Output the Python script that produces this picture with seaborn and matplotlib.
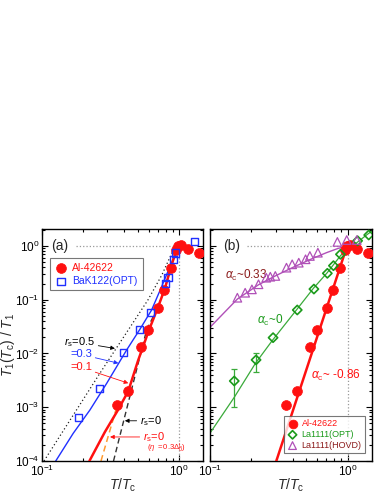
import numpy as np
import pandas as pd
import matplotlib
matplotlib.use("Agg")
import matplotlib.pyplot as plt
import seaborn as sns

# ---------------- data ----------------
al_x = [0.355, 0.427, 0.531, 0.598, 0.703, 0.777, 0.879, 0.95, 0.99, 1.03, 1.16, 1.41]
al_y = [1.1e-3, 2.03e-3, 0.0134, 0.0268, 0.069, 0.150, 0.385, 0.84, 1.0, 1.04, 0.88, 0.73]

bak_x = [0.184, 0.262, 0.392, 0.515, 0.625, 0.795, 0.832, 0.92, 0.946, 1.30]
bak_y = [6.4e-4, 2.25e-3, 0.0103, 0.028, 0.0585, 0.199, 0.257, 0.57, 0.74, 1.20]

opt_x = [0.150, 0.216, 0.287, 0.430, 0.568, 0.711, 0.787, 0.885, 1.18, 1.42]
opt_y = [3.08e-3, 7.6e-3, 0.0197, 0.0645, 0.158, 0.31, 0.43, 0.70, 1.25, 1.60]
opt_err_lo = [1.02e-3, 4.6e-3]
opt_err_hi = [5.1e-3, 0.0104]

hovd_x = [0.158, 0.180, 0.2015, 0.225, 0.256, 0.274, 0.298, 0.359, 0.395, 0.441,
          0.494, 0.531, 0.607, 0.841, 0.983, 1.163]
hovd_y = [0.109, 0.135, 0.156, 0.194, 0.257, 0.268, 0.277, 0.395, 0.456, 0.489,
          0.566, 0.652, 0.75, 1.19, 1.29, 1.29]

# fit curves, panel (a)
rs05_x = [0.1034, 0.265, 0.594, 0.751, 0.889, 0.96]
rs05_y = [1.0e-4, 4.3e-3, 0.099, 0.289, 0.741, 1.0]
rs03_x = [0.126, 0.169, 0.224, 0.297, 0.415, 0.519, 0.632, 0.748, 0.860, 0.935, 0.97]
rs03_y = [1.0e-4, 3.27e-4, 8.9e-4, 2.79e-3, 0.0116, 0.0282, 0.0645, 0.175, 0.412, 0.68, 1.0]
rs01_x = [0.222, 0.288, 0.359, 0.427, 0.502, 0.601, 0.706, 0.791, 0.884, 0.951, 0.97]
rs01_y = [1.0e-4, 3.47e-4, 8.9e-4, 2.0e-3, 7.25e-3, 0.0262, 0.0743, 0.163, 0.443, 0.783, 1.0]
rs0_x = [0.333, 0.439, 0.581, 0.706, 0.791, 0.884, 0.951, 0.97]
rs0_y = [1.0e-4, 1.62e-3, 0.0274, 0.0743, 0.163, 0.443, 0.783, 1.0]
rs0eta_x = [0.2697, 0.355, 0.37]
rs0eta_y = [1.0e-4, 1.1e-3, 1.3e-3]

# fit curves, panel (b)
fit_opt_x = [0.1, 0.150, 0.214, 0.285, 0.424, 0.563, 0.710, 0.89, 1.39, 1.5]
fit_opt_y = [3.3e-4, 1.53e-3, 6.6e-3, 0.0178, 0.0645, 0.163, 0.319, 0.67, 1.65, 1.9]
fit_hovd_x = [0.1, 0.158, 0.225, 0.30, 0.40, 0.55, 0.70, 0.85, 1.0]
fit_hovd_y = [0.0307, 0.103, 0.19, 0.28, 0.40, 0.58, 0.75, 0.90, 1.0]
fit_al_x = [0.303, 0.967]
fit_al_y = [1.0e-4, 0.84]

xticks = [0.1, 1.0]
yticks = [1e-4, 1e-3, 1e-2, 1e-1, 1.0]

# ---------------- style ----------------
sns.set_theme(style="ticks")
plt.rcParams["font.family"] = ["Liberation Sans", "DejaVu Sans"]
plt.rcParams["mathtext.fontset"] = "custom"
plt.rcParams["mathtext.rm"] = "Liberation Sans"
plt.rcParams["mathtext.it"] = "Liberation Sans:italic"
plt.rcParams["mathtext.bf"] = "Liberation Sans:bold"

RED = "#ff1010"
BLUE = "#2030ff"
GREEN = "#1a9a1a"
GREENL = "#3aaa3a"
PURPLE = "#b050b8"
DARKRED = "#8b1a1a"
ORANGE = "#ff9a30"
GRAY = "#999999"

fig = plt.figure(figsize=(3.82, 4.94), dpi=100)
axa = fig.add_axes([42/382, 33/494, 161/382, 232/494])
axb = fig.add_axes([210/382, 33/494, 162/382, 232/494])

for ax in (axa, axb):
    ax.set_xscale("log")
    ax.set_yscale("log")
    ax.set_xlim(0.1, 1.5)
    ax.set_ylim(1e-4, 2.07)
    ax.tick_params(which="both", direction="in", top=True, right=True,
                   labelsize=8.5, width=0.8, colors="black", pad=2)
    ax.tick_params(which="major", length=4.5)
    ax.tick_params(which="minor", length=2.5)
    ax.set_xticks(xticks)
    ax.set_yticks(yticks)
    for s in ax.spines.values():
        s.set_linewidth(1.0)
        s.set_color("black")
    ax.plot([1, 1], [1e-4, 1], color=GRAY, ls=":", lw=0.9, zorder=1)
    ax.set_xlabel(r"$T/T_{\rm c}$", fontsize=10, labelpad=-2)

axa.plot([0.177, 1], [1, 1], color=GRAY, ls=":", lw=0.9, zorder=1)
axb.plot([0.185, 1], [1, 1], color=GRAY, ls=":", lw=0.9, zorder=1)
axb.tick_params(labelleft=False)
axa.set_ylabel(r"$T_{\rm 1}(T_{\rm c})\ /\ T_{\rm 1}$", fontsize=10, labelpad=-1.5)

def line(ax, xs, ys, color, ls="-", lw=1.0, z=2):
    sns.lineplot(x=xs, y=ys, ax=ax, color=color, linestyle=ls, linewidth=lw,
                 sort=False, estimator=None, zorder=z, legend=False)

# ---- panel (a)
line(axa, rs05_x, rs05_y, "#222222", (0, (1, 2)), 0.9)
line(axa, rs0_x, rs0_y, "#333333", (0, (4, 2.5)), 1.0)
line(axa, rs0eta_x, rs0eta_y, ORANGE, (0, (4, 2.5)), 1.1)
line(axa, rs03_x, rs03_y, BLUE, "-", 1.0)
line(axa, rs01_x, rs01_y, RED, "-", 1.8, z=3)

sns.scatterplot(x=al_x, y=al_y, ax=axa, marker="o", s=50, color=RED,
                edgecolor=RED, linewidth=0.5, label="Al-42622", zorder=5)
sns.scatterplot(x=bak_x, y=bak_y, ax=axa, marker="s", s=26, color=BLUE,
                facecolor="none", edgecolor=BLUE, linewidth=1.0,
                label="BaK122(OPT)", zorder=6)

lega = axa.legend(loc="upper left", bbox_to_anchor=(0.05, 0.875), fontsize=7.5,
                  frameon=True, fancybox=False, edgecolor="#555555",
                  handletextpad=0.5, borderpad=0.45, labelspacing=0.3,
                  handlelength=1.2, borderaxespad=0)
lega.get_frame().set_linewidth(0.8)
for t, c in zip(lega.get_texts(), [RED, BLUE]):
    t.set_color(c)

axa.text(0.11, 0.925, "(a)", transform=axa.transAxes, fontsize=10,
         ha="center", va="center")

arr = dict(arrowstyle="-|>", lw=0.6, mutation_scale=6, shrinkA=0, shrinkB=0)
axa.annotate(r"$r_{\rm s}$=0.5", xy=(0.341, 0.0124), xytext=(0.244, 0.0160),
             fontsize=8, ha="right", va="center", color="black",
             arrowprops=dict(arr, color="black"))
axa.annotate("=0.3", xy=(0.361, 6.6e-3), xytext=(0.232, 9.6e-3),
             fontsize=8, ha="right", va="center", color=BLUE,
             arrowprops=dict(arr, color=BLUE))
axa.annotate("=0.1", xy=(0.427, 2.8e-3), xytext=(0.232, 5.5e-3),
             fontsize=8, ha="right", va="center", color=RED,
             arrowprops=dict(arr, color=RED))
axa.annotate(r"$r_{\rm s}$=0", xy=(0.403, 5.6e-4), xytext=(0.519, 5.6e-4),
             fontsize=8, ha="left", va="center", color="black",
             arrowprops=dict(arr, color="black"))
axa.annotate(r"$r_{\rm s}$=0", xy=(0.314, 2.8e-4), xytext=(0.546, 2.8e-4),
             fontsize=8, ha="left", va="center", color=RED,
             arrowprops=dict(arr, color=RED))
axa.text(0.58, 1.72e-4, r"$(\eta\ =0.3\Delta_0^{\rm L})$", fontsize=5.5,
         ha="left", va="center", color=RED)

# ---- panel (b)
line(axb, fit_hovd_x, fit_hovd_y, PURPLE, "-", 1.0)
line(axb, fit_opt_x, fit_opt_y, GREENL, "-", 0.9)
line(axb, fit_al_x, fit_al_y, RED, "-", 1.8, z=3)

sns.scatterplot(x=al_x, y=al_y, ax=axb, marker="o", s=50, color=RED,
                edgecolor=RED, linewidth=0.5, label="Al-42622", zorder=5)
axb.errorbar(opt_x[:2], opt_y[:2],
             yerr=[[opt_y[i] - opt_err_lo[i] for i in range(2)],
                   [opt_err_hi[i] - opt_y[i] for i in range(2)]],
             fmt="none", ecolor=GREENL, elinewidth=0.9, capsize=2.5,
             capthick=0.9, zorder=4)
sns.scatterplot(x=opt_x, y=opt_y, ax=axb, marker="D", s=22, color=GREEN,
                facecolor="none", edgecolor=GREEN, linewidth=1.2,
                label="La1111(OPT)", zorder=6)
sns.scatterplot(x=hovd_x, y=hovd_y, ax=axb, marker="^", s=38, color=PURPLE,
                facecolor="none", edgecolor=PURPLE, linewidth=0.9,
                label="La1111(HOVD)", zorder=6)

legb = axb.legend(loc="lower right", bbox_to_anchor=(0.955, 0.034), fontsize=6.5,
                  frameon=True, fancybox=False, edgecolor="#555555",
                  handletextpad=0.4, borderpad=0.35, labelspacing=0.2,
                  handlelength=1.2, borderaxespad=0, markerscale=0.9)
legb.get_frame().set_linewidth(0.8)
for t, c in zip(legb.get_texts(), [RED, GREEN, DARKRED]):
    t.set_color(c)

axb.text(0.134, 0.925, "(b)", transform=axb.transAxes, fontsize=10,
         ha="center", va="center")
axb.text(0.1287, 0.288, r"$\alpha_{\rm c}$~0.33", fontsize=8.5, color=DARKRED,
         ha="left", va="center")
axb.text(0.219, 0.042, r"$\alpha_{\rm c}$~0", fontsize=8.5, color=GREEN,
         ha="left", va="center")
axb.text(0.537, 3.86e-3, r"$\alpha_{\rm c}$~ -0.86", fontsize=8.5, color=RED,
         ha="left", va="center")

fig.savefig("out.png", dpi=100)
